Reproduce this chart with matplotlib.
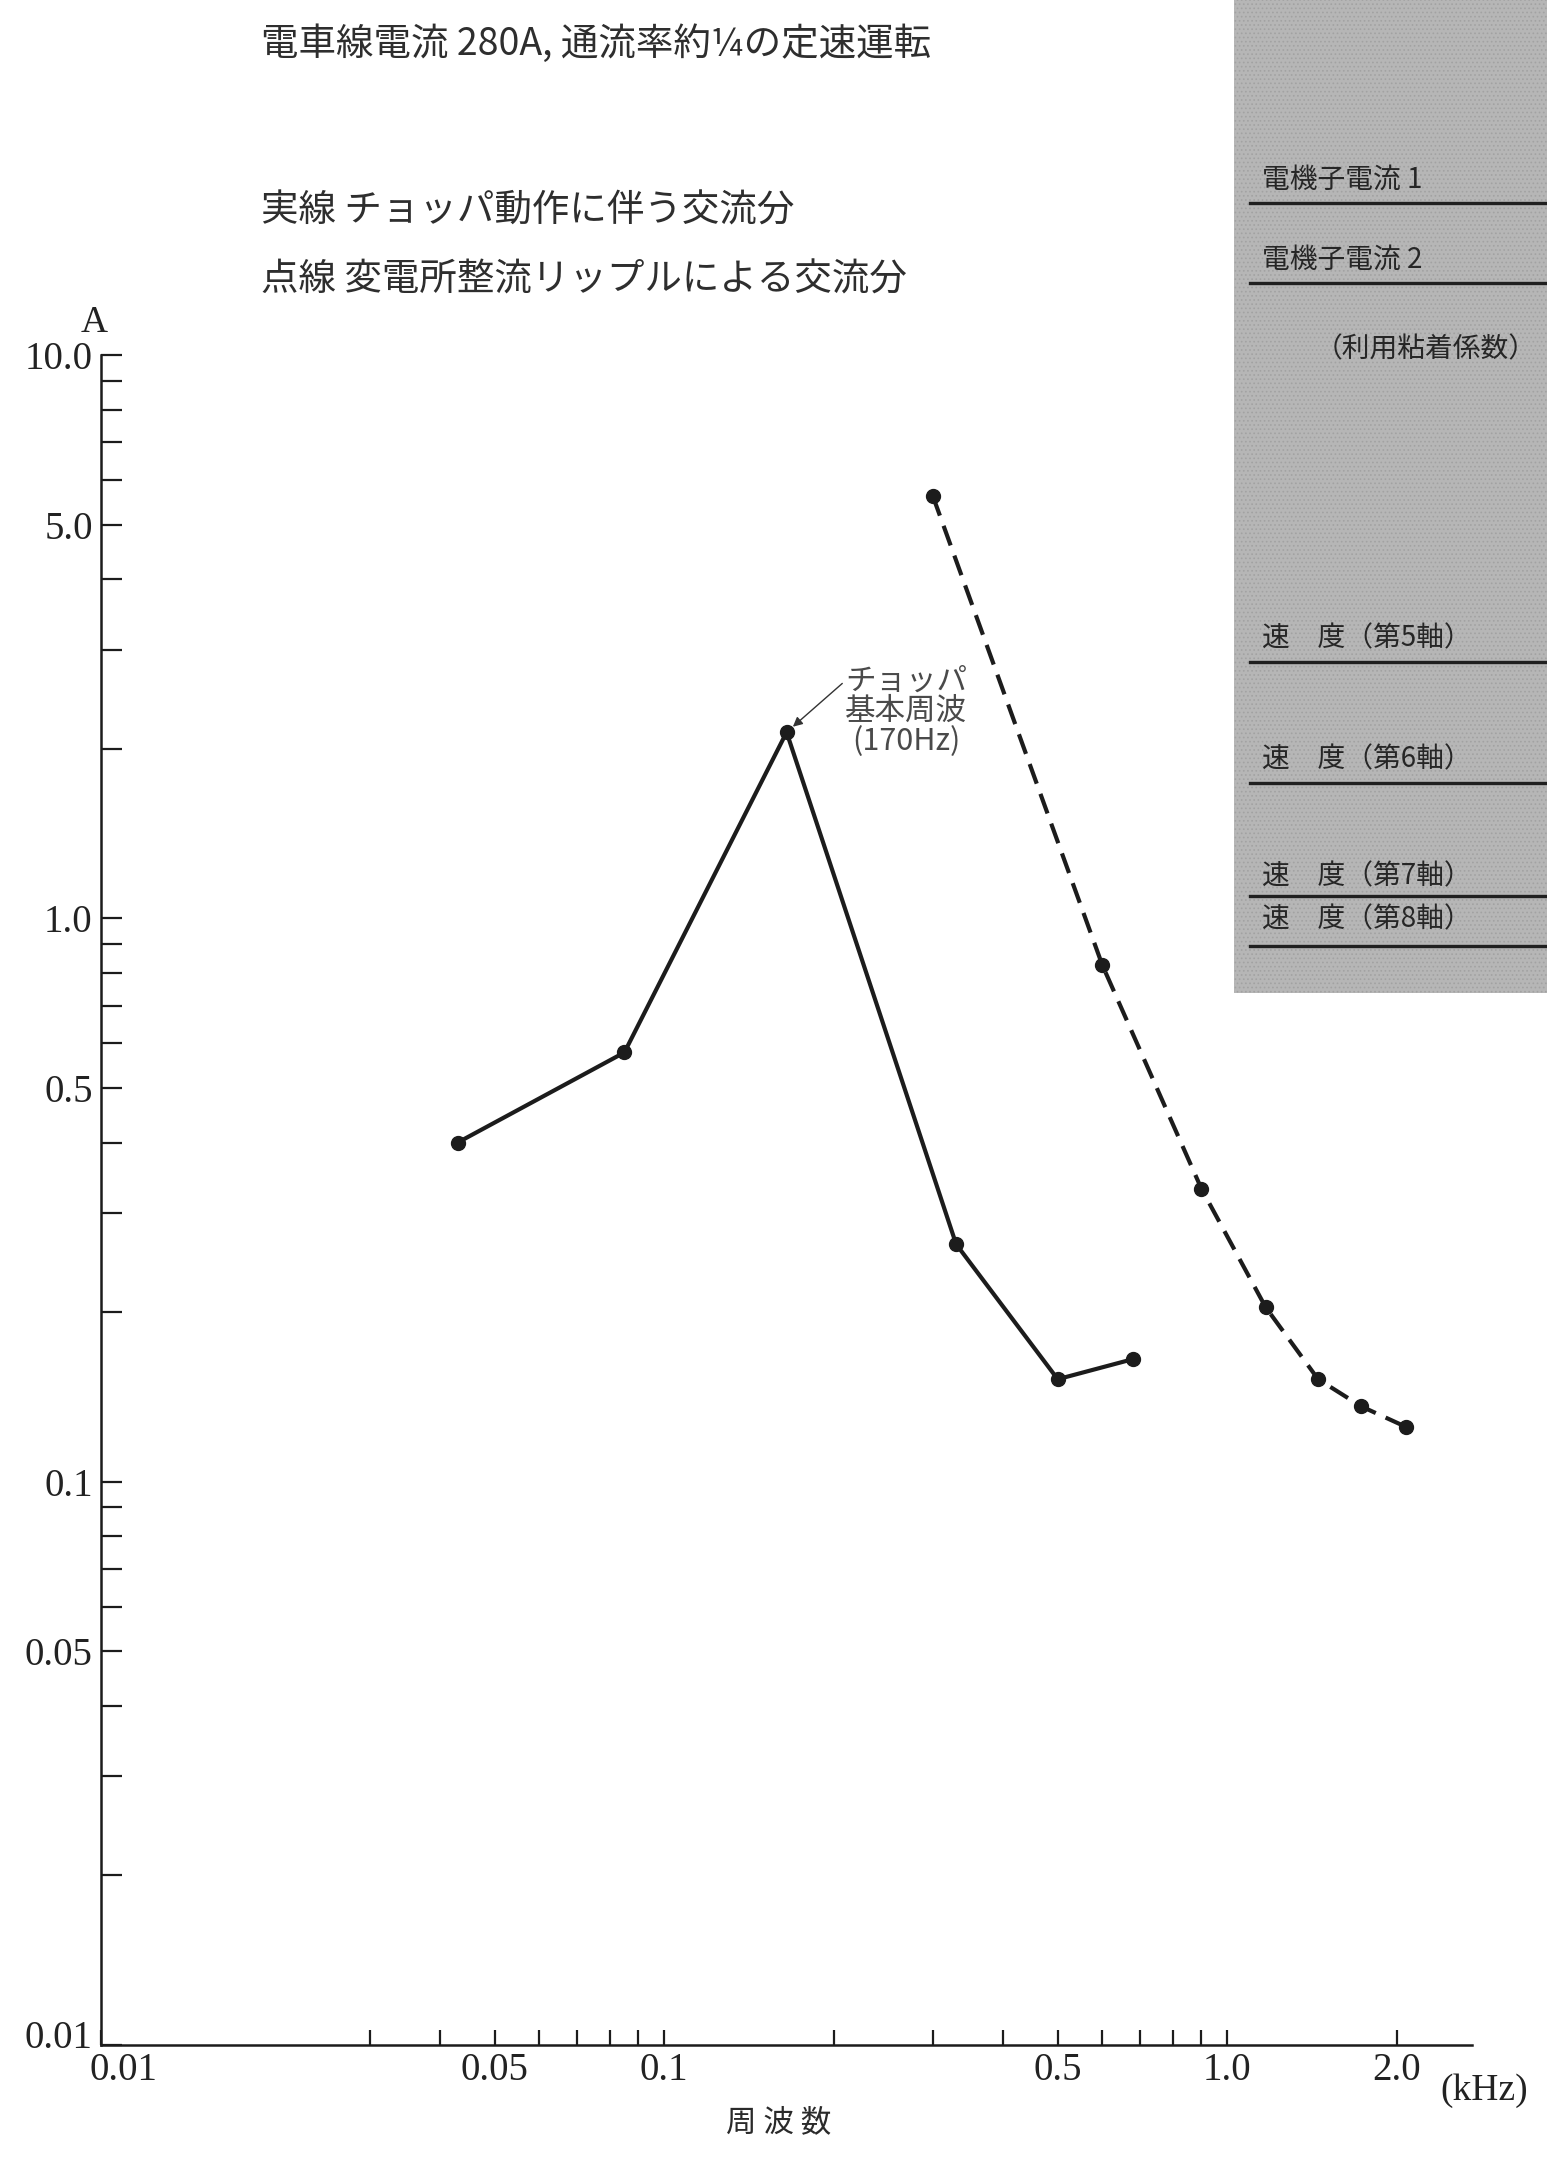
from __future__ import annotations

import matplotlib

matplotlib.use("Agg")

import matplotlib.pyplot as plt
from matplotlib.patches import Rectangle
from matplotlib.lines import Line2D
from matplotlib.transforms import ScaledTranslation
from matplotlib.ticker import FixedLocator, FixedFormatter, NullFormatter


# chopper harmonics (solid) and substation ripple (dashed), frequency in kHz, current in A
CHOPPER_FREQ = [0.043, 0.085, 0.165, 0.33, 0.50, 0.68]
CHOPPER_AMP = [0.40, 0.578, 2.14, 0.264, 0.152, 0.165]

RIPPLE_FREQ = [0.30, 0.60, 0.90, 1.17, 1.45, 1.73, 2.08]
RIPPLE_AMP = [5.62, 0.826, 0.331, 0.204, 0.152, 0.136, 0.125]

Y_MAJOR = [0.01, 0.05, 0.1, 0.5, 1.0, 5.0, 10.0]
Y_MAJOR_LABELS = ["0.01", "0.05", "0.1", "0.5", "1.0", "5.0", "10.0"]
Y_MINOR = [0.02, 0.03, 0.04, 0.06, 0.07, 0.08, 0.09,
           0.2, 0.3, 0.4, 0.6, 0.7, 0.8, 0.9,
           2, 3, 4, 6, 7, 8, 9]

X_MAJOR = [0.01, 0.05, 0.1, 0.5, 1.0, 2.0]
X_MAJOR_LABELS = ["0.01", "0.05", "0.1", "0.5", "1.0", "2.0"]
X_MINOR = [0.03, 0.04, 0.06, 0.07, 0.08, 0.09,
           0.2, 0.3, 0.4, 0.6, 0.7, 0.8, 0.9]

HEADER = "電車線電流 280A, 通流率約¼の定速運転"
LEGEND_SOLID = "実線 チョッパ動作に伴う交流分"
LEGEND_DASHED = "点線 変電所整流リップルによる交流分"
PEAK_NOTE = "チョッパ\n基本周波\n(170Hz)"
X_LABEL = "周 波 数"

BOX_LABELS = ["電機子電流 1", "電機子電流 2", "速　度（第5軸）", "速　度（第6軸）",
              "速　度（第7軸）", "速　度（第8軸）"]
BOX_NOTE = "（利用粘着係数）"

CJK = ["Noto Sans CJK JP", "DejaVu Sans"]
SERIF = ["Liberation Serif", "DejaVu Serif"]
INK = "#1c1c1c"


def draw_side_box(fig) -> None:
    # grey panel from the neighbouring figure that shows in the scan
    box = Rectangle((0.7977, 0.5405), 0.21, 0.47, transform=fig.transFigure,
                    facecolor="#b6b6b6", edgecolor="#a2a2a2", hatch="....",
                    linewidth=0, zorder=0)
    box.set_hatch_linewidth(0.7)
    fig.patches.append(box)

    rows = [(0.9158, 0.9061), (0.8788, 0.8690), (0.7034, 0.6937),
            (0.6474, 0.6377), (0.5937, 0.5854), (0.5738, 0.5622)]
    for label, (ty, ly) in zip(BOX_LABELS, rows):
        fig.text(0.8158, ty + 0.001, label, family=CJK, fontsize=20, color="#262626",
                 ha="left", va="center")
        fig.add_artist(Line2D([0.808, 1.0], [ly, ly], transform=fig.transFigure,
                              color="#202020", linewidth=2.4))
    fig.text(0.8500, 0.8385, BOX_NOTE, family=CJK, fontsize=20, color="#262626",
             ha="left", va="center")


def main() -> None:
    fig = plt.figure(figsize=(15.47, 21.61), dpi=100)
    fig.patch.set_facecolor("white")
    draw_side_box(fig)

    ax = fig.add_axes([0.0653, 0.0537, 0.8862, 0.7820])
    ax.patch.set_alpha(0)
    ax.set_xscale("log")
    ax.set_yscale("log")
    ax.set_xlim(0.01, 2.72)
    ax.set_ylim(0.01, 10.0)

    ax.plot(CHOPPER_FREQ, CHOPPER_AMP, color=INK, linewidth=3.0,
            marker="o", markersize=10, zorder=3)
    ax.plot(RIPPLE_FREQ, RIPPLE_AMP, color=INK, linewidth=3.0,
            linestyle=(0, (5, 2.6)), marker="o", markersize=10, zorder=3)

    for side in ("top", "right"):
        ax.spines[side].set_visible(False)
    for side in ("left", "bottom"):
        ax.spines[side].set_linewidth(1.8)
        ax.spines[side].set_color(INK)

    ax.yaxis.set_major_locator(FixedLocator(Y_MAJOR))
    ax.yaxis.set_major_formatter(FixedFormatter(Y_MAJOR_LABELS))
    ax.yaxis.set_minor_locator(FixedLocator(Y_MINOR))
    ax.yaxis.set_minor_formatter(NullFormatter())
    ax.xaxis.set_major_locator(FixedLocator(X_MAJOR))
    ax.xaxis.set_major_formatter(FixedFormatter(X_MAJOR_LABELS))
    ax.xaxis.set_minor_locator(FixedLocator(X_MINOR))
    ax.xaxis.set_minor_formatter(NullFormatter())

    ax.tick_params(axis="y", which="both", direction="in", length=15, width=1.6,
                   color=INK, pad=6)
    ax.tick_params(axis="x", which="both", direction="in", length=11, width=1.6,
                   color=INK, pad=5)
    for lab in ax.get_xticklabels() + ax.get_yticklabels():
        lab.set_fontfamily(SERIF)
        lab.set_fontsize(28)
        lab.set_color("#222222")

    # the two 0.01 labels at the corner are set apart as in the original
    fig.canvas.draw()
    xlab0 = ax.get_xticklabels()[0]
    xlab0.set_transform(xlab0.get_transform() + ScaledTranslation(16 / 72, 0, fig.dpi_scale_trans))
    ylab0 = ax.get_yticklabels()[0]
    ylab0.set_transform(ylab0.get_transform() + ScaledTranslation(0, 8 / 72, fig.dpi_scale_trans))

    ax.annotate(PEAK_NOTE, xy=(CHOPPER_FREQ[2], CHOPPER_AMP[2]),
                xytext=(86, 15), textcoords="offset points",
                ha="center", va="center", family=CJK, fontsize=22,
                color="#4a4a4a", linespacing=0.98,
                arrowprops=dict(arrowstyle="-|>", color="#333333", lw=1.0,
                                mutation_scale=14, shrinkA=0, shrinkB=6,
                                relpos=(0.06, 0.9)))

    ax.text(0.977, -0.027, "(kHz)", transform=ax.transAxes, family=SERIF,
            fontsize=27, color="#222222", ha="left", va="center")

    fig.text(0.0608, 0.8505, "A", family=SERIF, fontsize=27, color="#222222",
             ha="center", va="center")
    fig.text(0.5036, 0.0176, X_LABEL, family=CJK, fontsize=22, color="#2a2a2a",
             ha="center", va="center")

    fig.text(0.169, 0.9796, HEADER, family=CJK, fontsize=27, color="#2e2e2e",
             ha="left", va="center")
    fig.text(0.169, 0.9024, LEGEND_SOLID, family=CJK, fontsize=27, color="#2e2e2e",
             ha="left", va="center")
    fig.text(0.169, 0.8704, LEGEND_DASHED, family=CJK, fontsize=27, color="#2e2e2e",
             ha="left", va="center")

    fig.savefig("out.png", dpi=100)
    plt.close(fig)


if __name__ == "__main__":
    main()
